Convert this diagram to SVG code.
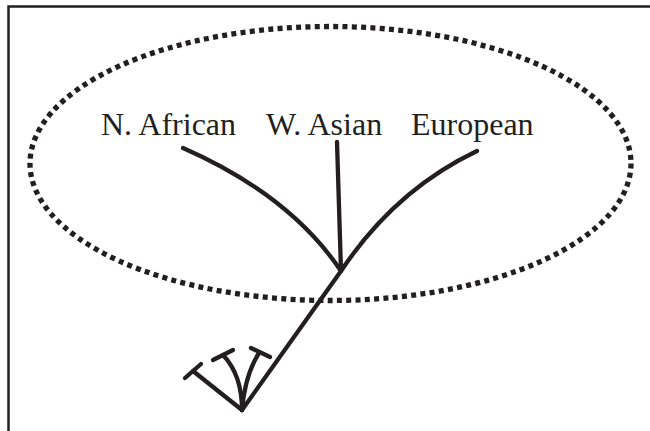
<svg xmlns="http://www.w3.org/2000/svg" width="650" height="431" viewBox="0 0 650 431">
<style>
.ln{fill:none;stroke:#231f20;stroke-width:4.3;stroke-linecap:round;stroke-linejoin:round}
.lb{font-family:"Liberation Serif","Times New Roman",serif;font-size:32px;fill:#231f20}
</style>
<rect x="0" y="0" width="650" height="431" fill="#fff"/>
<rect id="frame" x="8.5" y="6.5" width="700" height="500" fill="none" stroke="#231f20" stroke-width="2.5"/>
<g id="group-ellipse">
<ellipse cx="330.5" cy="163.5" rx="300.5" ry="137" fill="none" stroke="#231f20" stroke-width="5.3" stroke-dasharray="5 4.3"/>
</g>
<g id="node-nafrican"><text class="lb" x="101" y="135">N. African</text></g>
<g id="node-wasian"><text class="lb" x="266" y="135">W. Asian</text></g>
<g id="node-european"><text class="lb" x="411" y="135">European</text></g>
<g id="connectors">
<path class="ln" d="M183,148 Q290,195 341,271"/>
<path class="ln" d="M337,142 L341,271"/>
<path class="ln" d="M477,151 Q395,190 341,271 L242,410"/>
<path class="ln" d="M242,410 L193,371"/>
<path class="ln" d="M185,378 L201,364"/>
<path class="ln" d="M242,410 Q242,375 223,355"/>
<path class="ln" d="M213,360 L233,350"/>
<path class="ln" d="M242,410 Q245,375 259,353"/>
<path class="ln" d="M251,348 L270,357"/>
</g>
</svg>
